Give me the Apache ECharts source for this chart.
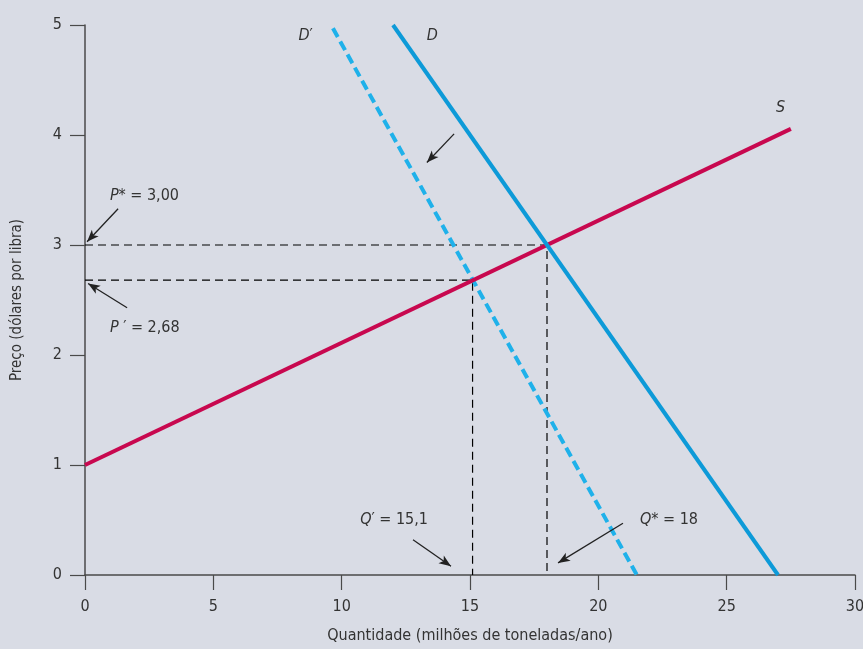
<!DOCTYPE html>
<html><head><meta charset="utf-8">
<script src="https://cdn.jsdelivr.net/npm/echarts@6/dist/echarts.min.js"></script>
<style>html,body{margin:0;padding:0;background:#d9dce5}#c{width:863px;height:649px}</style>
</head><body><div id="c"></div>
<script>
const xTicks = [0, 5, 10, 15, 20, 25, 30];
const yTicks = [0, 1, 2, 3, 4, 5];
const supplyS = [[0, 1], [27.5, 4.056]];
const demandD = [[12, 5], [27, 0]];
const demandD2 = [[9.66, 4.97], [21.5, 0]];
const eqStar = [18, 3.0];
const eqPrime = [15.1, 2.68];
const arrows = [
  [[1.29, 3.33], [0.08, 3.03]],
  [[1.64, 2.43], [0.12, 2.65]],
  [[12.78, 0.32], [14.26, 0.08]],
  [[20.96, 0.47], [18.43, 0.11]],
  [[14.38, 4.01], [13.32, 3.75]]
];
const labels = [
  {coord: [0.95, 3.45], parts: ['P', '* = 3,00']},
  {coord: [0.95, 2.25], parts: ['P', ' \u2032 = 2,68']},
  {coord: [10.7, 0.5], parts: ['Q', '\u2032 = 15,1']},
  {coord: [21.6, 0.5], parts: ['Q', '* = 18']},
  {coord: [8.3, 4.9], parts: ['D', '\u2032']},
  {coord: [13.3, 4.9], parts: ['D', '']},
  {coord: [26.9, 4.25], parts: ['S', '']}
];

const font = '"DejaVu Sans Condensed","Liberation Sans Narrow","Roboto",sans-serif';
const axisColor = '#4a4a4a';
const chart = echarts.init(document.getElementById('c'));
const dashBlack = {color: '#000', width: 1.2, type: [8, 5]};

chart.setOption({
  backgroundColor: '#d9dce5',
  animation: false,
  grid: {left: 85, right: 8, top: 25, bottom: 74, outerBoundsMode: 'none', containLabel: false},
  xAxis: {
    type: 'value', min: xTicks[0], max: xTicks[xTicks.length - 1], interval: 5,
    name: 'Quantidade (milhões de toneladas/ano)', nameLocation: 'middle', nameGap: 53,
    nameTextStyle: {fontFamily: font, fontSize: 16, color: '#333'},
    axisLine: {lineStyle: {color: axisColor, width: 1.5}},
    axisTick: {show: true, inside: false, length: 15, lineStyle: {color: axisColor, width: 1.2}},
    axisLabel: {fontFamily: font, fontSize: 16, color: '#333', margin: 24},
    splitLine: {show: false}
  },
  yAxis: {
    type: 'value', min: yTicks[0], max: yTicks[yTicks.length - 1], interval: 1,
    name: 'Preço (dólares por libra)', nameLocation: 'middle', nameGap: 60,
    nameTextStyle: {fontFamily: font, fontSize: 15, color: '#333'},
    axisLine: {show: true, lineStyle: {color: axisColor, width: 1.5}},
    axisTick: {show: true, inside: false, length: 15, lineStyle: {color: axisColor, width: 1.2}},
    axisLabel: {fontFamily: font, fontSize: 16, color: '#333', margin: 23},
    splitLine: {show: false}
  },
  series: [
    {type: 'line', data: [[0, eqStar[1]], eqStar, [eqStar[0], 0]], symbol: 'none', lineStyle: dashBlack, z: 1},
    {type: 'line', data: [[0, eqPrime[1]], eqPrime, [eqPrime[0], 0]], symbol: 'none', lineStyle: dashBlack, z: 1},
    {type: 'line', data: supplyS, symbol: 'none', lineStyle: {color: '#c8084f', width: 4, cap: 'butt'}, z: 3},
    {type: 'line', data: demandD, symbol: 'none', lineStyle: {color: '#0d9ad8', width: 4, cap: 'butt'}, z: 3},
    {type: 'line', data: demandD2, symbol: 'none', lineStyle: {color: '#1fb1ea', width: 4, type: [10, 5], cap: 'butt'}, z: 2},
    {
      type: 'scatter', data: [], symbolSize: 0,
      markLine: {
        silent: true, symbol: ['none', 'arrow'], symbolSize: [7, 12],
        lineStyle: {color: '#222', width: 1.3, type: 'solid'}, label: {show: false},
        data: arrows.map(a => [{coord: a[0]}, {coord: a[1]}])
      },
      markPoint: {
        silent: true, symbol: 'circle', symbolSize: 1,
        itemStyle: {color: 'rgba(0,0,0,0)'},
        data: labels.map(l => ({
          coord: l.coord,
          label: {
            show: true, position: 'right', distance: 0,
            formatter: '{i|' + l.parts[0] + '}' + (l.parts[1] ? '{n|' + l.parts[1] + '}' : ''),
            rich: {
              i: {fontFamily: font, fontStyle: 'italic', fontSize: 16, color: '#333'},
              n: {fontFamily: font, fontSize: 16, color: '#333'}
            }
          }
        }))
      }
    }
  ]
});
</script></body></html>
